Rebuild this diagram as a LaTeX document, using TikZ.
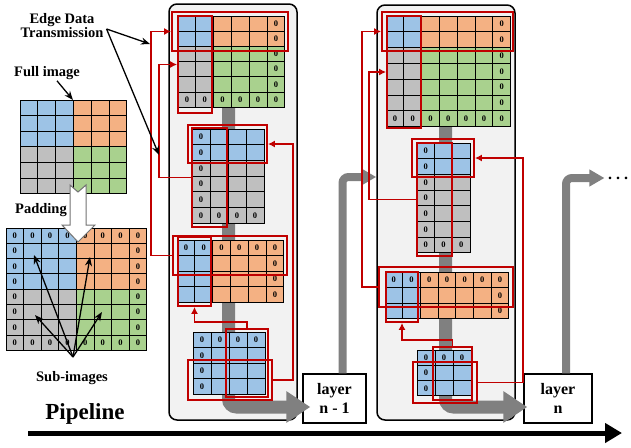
\documentclass[tikz,border=0pt]{standalone}
\usepackage{fontspec}
\setmainfont{Liberation Serif}
\usetikzlibrary{arrows.meta,positioning}

\definecolor{cellblue}{HTML}{9DC3E6}
\definecolor{cellorange}{HTML}{F4B183}
\definecolor{cellgray}{HTML}{BFBFBF}
\definecolor{cellgreen}{HTML}{A9D18E}
\definecolor{edgered}{HTML}{C00000}
\definecolor{panelgray}{HTML}{F2F2F2}
\definecolor{pipegray}{HTML}{808080}

\begin{document}
\begin{tikzpicture}[x=1pt,y=-1pt]
\tikzstyle{cell}=[draw=black,line width=0.9pt]
\tikzstyle{zero}=[font=\fontsize{8.5}{8.5}\selectfont\bfseries,inner sep=0pt]
\tikzstyle{redbox}=[draw=edgered,line width=1.8pt,inner sep=0pt]
\tikzstyle{sendline}=[draw=edgered,line width=1.8pt,-{Latex[length=7pt,width=7pt]}]
\tikzstyle{panel}=[draw=black,line width=1.5pt,fill=panelgray,rounded corners=8pt,inner sep=0pt]
\tikzstyle{layerbox}=[draw=black,line width=1.3pt,fill=white,align=center,inner sep=0pt,font=\fontsize{16}{19}\selectfont\bfseries]
\tikzstyle{pipe}=[draw=pipegray,line width=13pt,rounded corners=8pt,-{Triangle[length=24pt,width=30pt]}]
\tikzstyle{thinpipe}=[draw=pipegray,line width=8pt,rounded corners=6pt,-{Triangle[length=15pt,width=16pt]}]
\tikzstyle{note}=[align=center,inner sep=1pt,font=\fontsize{14.5}{14}\selectfont\bfseries]
\tikzstyle{pointer}=[draw=black,line width=1.3pt,-{Stealth[length=9pt,width=7pt]}]
\useasboundingbox (0,0) rectangle (631,447);

% Layer boxes and panels
\node (L1) [layerbox,minimum width=63,minimum height=49] at (334.5,398.5) {layer\\n - 1};
\node (L2) [layerbox,minimum width=68,minimum height=49] at (558,398.5) {layer\\n};
\node (P1) [panel,minimum width=128,minimum height=416] at (233,212) {};
\node (P2) [panel,minimum width=138,minimum height=415] at (446,212.5) {};

% Pipeline flow inside the panels
\coordinate (P1pipe) at (228.5,100);
\coordinate (P2pipe) at (445.5,120);
\draw[pipe] (P1pipe) |- ([xshift=8pt,yshift=-8.5pt]L1.west);
\draw[pipe] (P2pipe) |- ([xshift=4pt,yshift=-8.5pt]L2.west);

% Full image
\begin{scope}[shift={(20,100)},x=17.8pt,y=-15.6pt]
\foreach \i in {0,1,2} \foreach \j in {0,1,2} \draw[cell,fill=cellblue] (\i,\j) rectangle +(1,1);
\foreach \i in {3,4,5} \foreach \j in {0,1,2} \draw[cell,fill=cellorange] (\i,\j) rectangle +(1,1);
\foreach \i in {0,1,2} \foreach \j in {3,4,5} \draw[cell,fill=cellgray] (\i,\j) rectangle +(1,1);
\foreach \i in {3,4,5} \foreach \j in {3,4,5} \draw[cell,fill=cellgreen] (\i,\j) rectangle +(1,1);
\end{scope}

% Padded image
\begin{scope}[shift={(6,228)},x=17.6pt,y=-15.3pt]
\foreach \i in {0,...,3} \foreach \j in {0,...,3} \draw[cell,fill=cellblue] (\i,\j) rectangle +(1,1);
\foreach \i in {4,...,7} \foreach \j in {0,...,3} \draw[cell,fill=cellorange] (\i,\j) rectangle +(1,1);
\foreach \i in {0,...,3} \foreach \j in {4,...,7} \draw[cell,fill=cellgray] (\i,\j) rectangle +(1,1);
\foreach \i in {4,...,7} \foreach \j in {4,...,7} \draw[cell,fill=cellgreen] (\i,\j) rectangle +(1,1);
\foreach \i in {0,...,7} {
  \node[zero] (PT\i) at (\i+.5,.5) {0};
  \node[zero] (PB\i) at (\i+.5,7.5) {0};
}
\foreach \j in {1,...,6} {
  \node[zero] (PL\j) at (.5,\j+.5) {0};
  \node[zero] (PR\j) at (7.5,\j+.5) {0};
}
\end{scope}

% Padding arrow
\draw[draw=black!55,fill=white,line width=1pt] (70,185) -- (78,192) -- (86,185) -- (86,225) -- (95,225)
  -- (78,242) -- (62,225) -- (70,225) -- cycle;

% Layer n-1: sub-images
\begin{scope}[shift={(178,16)},x=17.8pt,y=-15.2pt]
\foreach \i in {0,1} \foreach \j in {0,1} \draw[cell,fill=cellblue] (\i,\j) rectangle +(1,1);
\foreach \i in {2,...,5} \foreach \j in {0,1} \draw[cell,fill=cellorange] (\i,\j) rectangle +(1,1);
\foreach \i in {0,1} \foreach \j in {2,...,5} \draw[cell,fill=cellgray] (\i,\j) rectangle +(1,1);
\foreach \i in {2,...,5} \foreach \j in {2,...,5} \draw[cell,fill=cellgreen] (\i,\j) rectangle +(1,1);
\foreach \j in {0,...,5} \node[zero] (AR\j) at (5.5,\j+.5) {0};
\foreach \i in {0,...,4} \node[zero] (AB\i) at (\i+.5,5.5) {0};
\end{scope}
\begin{scope}[shift={(192,129)},x=18pt,y=-15.7pt]
\foreach \i in {0,...,3} \foreach \j in {0,1} \draw[cell,fill=cellblue] (\i,\j) rectangle +(1,1);
\foreach \i in {0,...,3} \foreach \j in {2,...,5} \draw[cell,fill=cellgray] (\i,\j) rectangle +(1,1);
\foreach \j in {0,...,5} \node[zero] (BL\j) at (.5,\j+.5) {0};
\foreach \i in {1,...,3} \node[zero] (BB\i) at (\i+.5,5.5) {0};
\end{scope}
\begin{scope}[shift={(177,240)},x=17.8pt,y=-15.5pt]
\foreach \i in {0,1} \foreach \j in {0,...,3} \draw[cell,fill=cellblue] (\i,\j) rectangle +(1,1);
\foreach \i in {2,...,5} \foreach \j in {0,...,3} \draw[cell,fill=cellorange] (\i,\j) rectangle +(1,1);
\foreach \i in {0,...,5} \node[zero] (CT\i) at (\i+.5,.5) {0};
\foreach \j in {1,...,3} \node[zero] (CR\j) at (5.5,\j+.5) {0};
\end{scope}
\begin{scope}[shift={(193,332)},x=18pt,y=-15.5pt]
\foreach \i in {0,...,3} \foreach \j in {0,...,3} \draw[cell,fill=cellblue] (\i,\j) rectangle +(1,1);
\foreach \i in {0,...,3} \node[zero] (DT\i) at (\i+.5,.5) {0};
\foreach \j in {1,...,3} \node[zero] (DL\j) at (.5,\j+.5) {0};
\end{scope}

% Layer n: sub-images
\begin{scope}[shift={(386,16)},x=17.8pt,y=-15.8pt]
\foreach \i in {0,1} \foreach \j in {0,1} \draw[cell,fill=cellblue] (\i,\j) rectangle +(1,1);
\foreach \i in {2,...,6} \foreach \j in {0,1} \draw[cell,fill=cellorange] (\i,\j) rectangle +(1,1);
\foreach \i in {0,1} \foreach \j in {2,...,6} \draw[cell,fill=cellgray] (\i,\j) rectangle +(1,1);
\foreach \i in {2,...,6} \foreach \j in {2,...,6} \draw[cell,fill=cellgreen] (\i,\j) rectangle +(1,1);
\foreach \j in {0,...,6} \node[zero] (ER\j) at (6.5,\j+.5) {0};
\foreach \i in {0,...,5} \node[zero] (EB\i) at (\i+.5,6.5) {0};
\end{scope}
\begin{scope}[shift={(417,143)},x=17.7pt,y=-15.7pt]
\foreach \i in {0,...,2} \foreach \j in {0,1} \draw[cell,fill=cellblue] (\i,\j) rectangle +(1,1);
\foreach \i in {0,...,2} \foreach \j in {2,...,6} \draw[cell,fill=cellgray] (\i,\j) rectangle +(1,1);
\foreach \j in {0,...,6} \node[zero] (FL\j) at (.5,\j+.5) {0};
\foreach \i in {1,2} \node[zero] (FB\i) at (\i+.5,6.5) {0};
\end{scope}
\begin{scope}[shift={(385,272)},x=17.7pt,y=-15.6pt]
\foreach \i in {0,1} \foreach \j in {0,...,2} \draw[cell,fill=cellblue] (\i,\j) rectangle +(1,1);
\foreach \i in {2,...,6} \foreach \j in {0,...,2} \draw[cell,fill=cellorange] (\i,\j) rectangle +(1,1);
\foreach \i in {0,...,6} \node[zero] (GT\i) at (\i+.5,.5) {0};
\foreach \j in {1,2} \node[zero] (GR\j) at (6.5,\j+.5) {0};
\end{scope}
\begin{scope}[shift={(417,350)},x=18pt,y=-15.3pt]
\foreach \i in {0,...,2} \foreach \j in {0,...,2} \draw[cell,fill=cellblue] (\i,\j) rectangle +(1,1);
\foreach \i in {0,...,2} \node[zero] (HT\i) at (\i+.5,.5) {0};
\foreach \j in {1,2} \node[zero] (HL\j) at (.5,\j+.5) {0};
\end{scope}

% Edge data boxes
\node (Arow) [redbox,minimum width=116,minimum height=39] at (230,31.5) {};
\node (Acol) [redbox,minimum width=34,minimum height=97] at (195,64.5) {};
\node (Brow) [redbox,minimum width=79,minimum height=38] at (227.5,144) {};
\node (Bcol) [redbox,minimum width=35,minimum height=99] at (209.5,177.5) {};
\node (Crow) [redbox,minimum width=114,minimum height=39] at (230,255.5) {};
\node (Ccol) [redbox,minimum width=33,minimum height=69] at (194.5,271.5) {};
\node (Drow) [redbox,minimum width=84,minimum height=40] at (230,380) {};
\node (Dcol) [redbox,minimum width=42,minimum height=68] at (247,363) {};
\node (Erow) [redbox,minimum width=131,minimum height=39] at (447.5,31.5) {};
\node (Ecol) [redbox,minimum width=34,minimum height=112] at (404,72) {};
\node (Frow) [redbox,minimum width=62,minimum height=38] at (443,158) {};
\node (Fcol) [redbox,minimum width=35,minimum height=113] at (434.5,199.5) {};
\node (Grow) [redbox,minimum width=134,minimum height=40] at (446,287) {};
\node (Gcol) [redbox,minimum width=32,minimum height=50] at (402,297) {};
\node (Hrow) [redbox,minimum width=64,minimum height=41] at (445,382.5) {};
\node (Hcol) [redbox,minimum width=39,minimum height=53] at (452.5,373.5) {};

% Flow between layers
\draw[thinpipe] ([xshift=8pt]L1.north) |- (P2.west |- 0,177);
\node (More) at (618,178) {\fontsize{16}{16}\selectfont\bfseries .\hspace{4pt}.\hspace{4pt}.};
\draw[thinpipe] ([xshift=8pt]L2.north) |- (More.west);

% Edge data transmission
\draw[sendline] (Crow.west) -- ++(-21,0) |- (Arow.west);
\draw[sendline] (Bcol.west) -- ++(-32,0) |- (Acol.west);
\draw[sendline] (Drow.east) -- ++(20,0) |- (Brow.east);
\draw[sendline] (Dcol.north) -- ++(0,-6) -| (Ccol.south);
\draw[sendline] (Grow.west) -- ++(-16,0) |- (Erow.west);
\draw[sendline] (Fcol.west) -- ++(-47,0) |- (Ecol.west);
\draw[sendline] (Hrow.east) -- ++(45,0) |- (Frow.east);
\draw[sendline] (Hcol.north) -- ++(0,-6) -| (Gcol.south);

% Labels
\node (EDT) [note] at (62,26) {Edge Data\\Transmission};
\node (FI) [note] at (47,73) {Full image};
\node (PD) [note] at (41,210) {Padding};
\node (SI) [note] at (72,378) {Sub-images};
\node (PL) [note,font=\fontsize{23}{23}\selectfont\bfseries] at (85,414) {Pipeline};

\coordinate (EDTa) at (150,44);
\coordinate (EDTb) at (159,155);
\coordinate (FIgrid) at (73,100);
\coordinate (SIroot) at (73,357);
\coordinate (SIblue) at (34,255);
\coordinate (SIorange) at (90,257);
\coordinate (SIgray) at (35,315);
\coordinate (SIgreen) at (102,312);
\draw[pointer] ([xshift=2pt,yshift=-3pt]EDT.east) -- (EDTa);
\draw[pointer] ([xshift=2pt,yshift=-3pt]EDT.east) -- (EDTb);
\draw[pointer] ([xshift=10pt]FI.south) -- (FIgrid);
\draw[pointer] (SIroot) -- (SIblue);
\draw[pointer] (SIroot) -- (SIorange);
\draw[pointer] (SIroot) -- (SIgray);
\draw[pointer] (SIroot) -- (SIgreen);

% Pipeline axis
\coordinate (T0) at (28,433);
\coordinate (T1) at (622,433);
\draw[line width=5pt,-{Triangle[length=17pt,width=19pt]}] (T0) -- (T1);
\end{tikzpicture}
\end{document}
